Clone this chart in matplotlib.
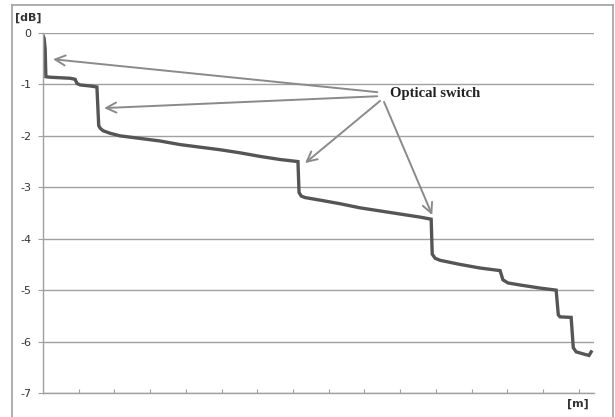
import numpy as np
import matplotlib.pyplot as plt
from matplotlib.lines import Line2D

# Trace: distance (tick units) vs. loss [dB]
distance = [0.00, 0.03, 0.06, 0.08, 0.20, 0.48, 0.76, 0.90, 0.95, 1.04, 1.32, 1.51,
            1.56, 1.60, 1.68, 1.88, 2.16, 2.72, 3.28, 3.84, 4.40, 4.96, 5.52, 6.08,
            6.64, 7.14, 7.17, 7.23, 7.34, 7.76, 8.32, 8.88, 9.44, 10.00, 10.56, 10.87,
            10.90, 10.98, 11.12, 11.68, 12.24, 12.80, 12.88, 13.02, 13.36, 13.92, 14.37,
            14.43, 14.48, 14.79, 14.85, 14.93, 15.18, 15.29, 15.35]
loss = [-0.05, -0.10, -0.30, -0.85, -0.86, -0.87, -0.88, -0.90, -0.98, -1.01, -1.03, -1.05,
        -1.80, -1.85, -1.90, -1.95, -2.00, -2.05, -2.10, -2.17, -2.22, -2.27, -2.33, -2.40,
        -2.46, -2.50, -3.10, -3.17, -3.20, -3.25, -3.32, -3.40, -3.46, -3.52, -3.58, -3.62,
        -4.30, -4.38, -4.42, -4.50, -4.57, -4.62, -4.80, -4.86, -4.90, -4.96, -5.00,
        -5.48, -5.52, -5.53, -6.12, -6.20, -6.25, -6.27, -6.20]

# optical switch arrows: tail -> tip
arrow_tails = [(9.36, -1.15), (9.36, -1.23), (9.44, -1.32), (9.55, -1.34)]
arrow_tips = [(0.28, -0.51), (1.71, -1.46), (7.34, -2.53), (10.90, -3.54)]
label_pos = (9.72, -1.17)

y_ticks = [0, -1, -2, -3, -4, -5, -6, -7]
x_ticks = list(range(1, 16))

fig = plt.figure(figsize=(6.15, 4.17), dpi=100)
ax = fig.add_axes([43 / 615, 24 / 417, 551 / 615, 360 / 417])

# outer frame
for xs, ys in [([12 / 615, 12 / 615], [0, 412 / 417]),
               ([12 / 615, 613 / 615], [412 / 417, 412 / 417]),
               ([613 / 615, 613 / 615], [412 / 417, 0])]:
    fig.add_artist(Line2D(xs, ys, color='#a0a0a0', lw=1.2))

ax.plot(distance, loss, color='#555555', lw=2.4, solid_joinstyle='miter')

for (tx, ty), (hx, hy) in zip(arrow_tails, arrow_tips):
    ax.annotate('', xy=(hx, hy), xytext=(tx, ty),
                arrowprops=dict(arrowstyle='->', color='#8a8a8a', lw=1.4,
                                mutation_scale=18, shrinkA=0, shrinkB=0))
ax.text(label_pos[0], label_pos[1], 'Optical switch', fontsize=10.5, fontweight='bold',
        family='Liberation Serif', color='#222222', ha='left', va='center')

ax.set_xlim(0, 15.43)
ax.set_ylim(-7, 0)
ax.set_yticks(y_ticks)
ax.set_yticklabels([str(v) for v in y_ticks], fontsize=8, color='#333333')
ax.set_xticks(x_ticks)
ax.set_xticklabels([])
ax.tick_params(axis='y', length=3.5, color='#a0a0a0', pad=5)
ax.tick_params(axis='x', direction='in', length=3, color='#a0a0a0')
ax.grid(axis='y', color='#a0a0a0', lw=1)
ax.set_axisbelow(True)
for s in ['top', 'right']:
    ax.spines[s].set_visible(False)
for s in ['left', 'bottom']:
    ax.spines[s].set_color('#a0a0a0')
    ax.spines[s].set_linewidth(1)

fig.text(28 / 615, 1 - 18 / 417, '[dB]', fontsize=8, fontweight='bold', color='#333333',
         ha='center', va='center')
fig.text(578 / 615, 1 - 404 / 417, '[m]', fontsize=8, fontweight='bold', color='#333333',
         ha='center', va='center')

plt.savefig('out.png', dpi=100)
